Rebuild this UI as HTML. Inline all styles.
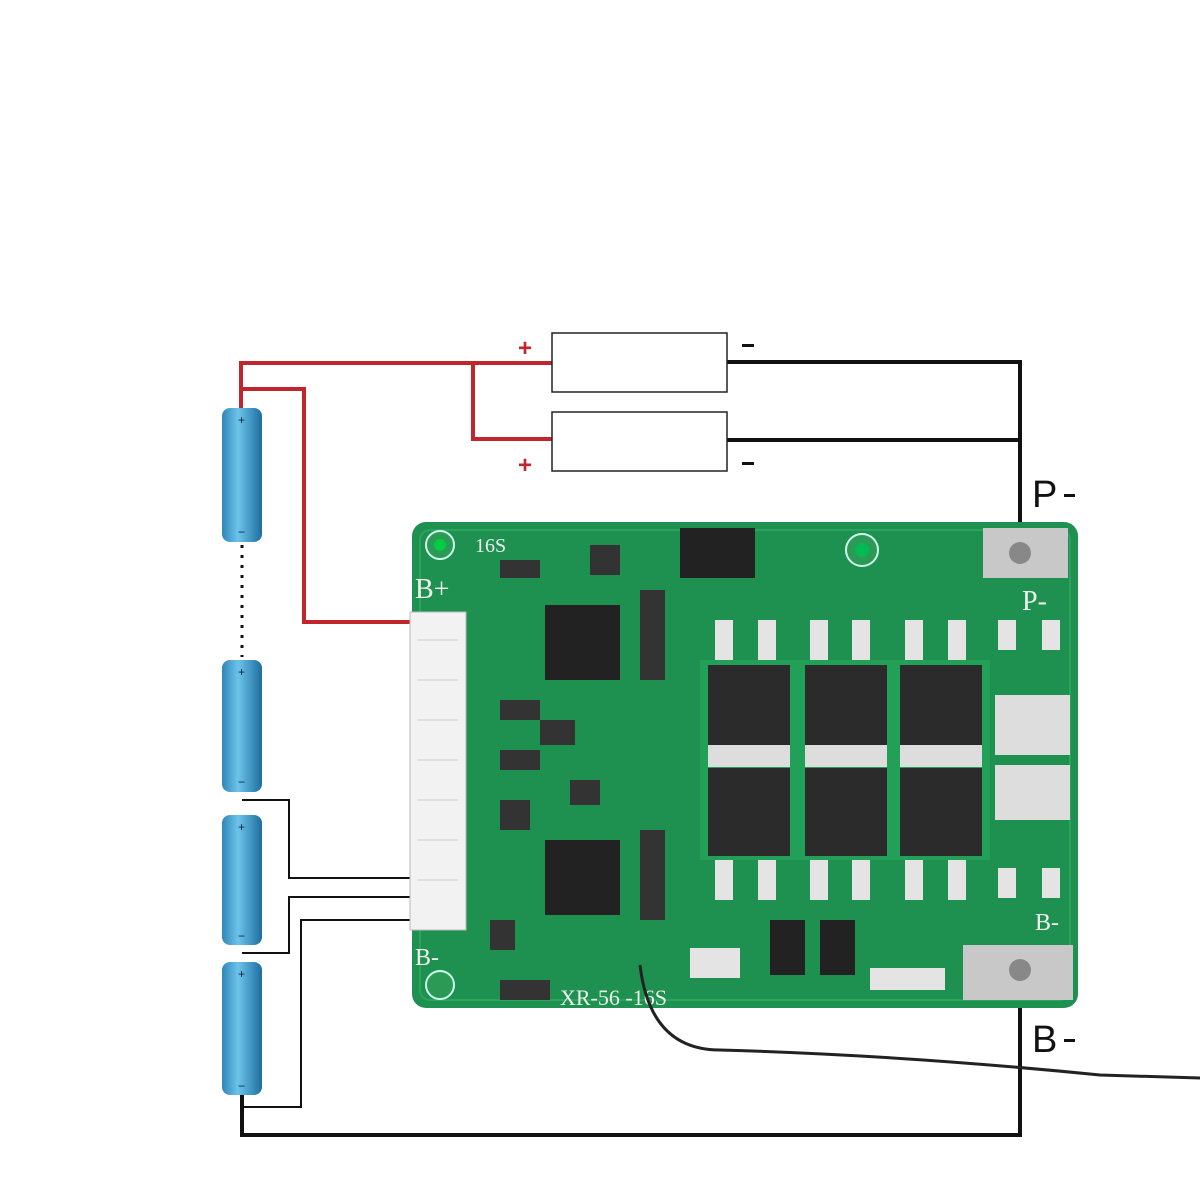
<!DOCTYPE html>
<html><head><meta charset="utf-8"><style>body{margin:0;background:#fff}svg{display:block}</style></head>
<body>
<svg width="1200" height="1200" viewBox="0 0 1200 1200" xmlns="http://www.w3.org/2000/svg" font-family="Liberation Sans, sans-serif">
<defs>
<linearGradient id="bat" x1="0" x2="1"><stop offset="0" stop-color="#2f86b8"/><stop offset="0.4" stop-color="#6cc3ea"/><stop offset="1" stop-color="#1d6e9e"/></linearGradient>
</defs>
<g stroke="#c0262b" stroke-width="4" fill="none">
<polyline points="241,408 241,363 552,363"/>
<polyline points="241,389 304,389 304,622 412,622"/>
<polyline points="473,363 473,439 552,439"/>
</g>
<g stroke="#111" stroke-width="4" fill="none">
<polyline points="727,362 1020,362 1020,525"/>
<line x1="727" y1="440" x2="1020" y2="440"/>
<polyline points="1020,1000 1020,1135 242,1135 242,1095"/>
</g>
<g stroke="#111" stroke-width="2" fill="none">
<polyline points="242,800 289,800 289,878 412,878"/>
<polyline points="242,953 289,953 289,897 412,897"/>
<polyline points="242,1107 301,1107 301,920 412,920"/>
</g>
<rect x="552" y="333" width="175" height="59" fill="#fff" stroke="#222" stroke-width="1.5"/>
<rect x="552" y="412" width="175" height="59" fill="#fff" stroke="#222" stroke-width="1.5"/>
<text x="518" y="356" fill="#c0262b" font-size="24" font-weight="bold">+</text>
<text x="518" y="473" fill="#c0262b" font-size="24" font-weight="bold">+</text>
<rect x="742" y="344" width="12" height="3" fill="#111"/>
<rect x="742" y="462" width="12" height="3" fill="#111"/>
<text x="1032" y="507" fill="#111" font-size="38">P</text><rect x="1064" y="494" width="11" height="3" fill="#111"/>
<text x="1032" y="1052" fill="#111" font-size="38">B</text><rect x="1064" y="1039" width="11" height="3" fill="#111"/>
<g>
<rect x="222" y="408" width="40" height="134" rx="8" fill="url(#bat)"/>
<rect x="222" y="660" width="40" height="132" rx="8" fill="url(#bat)"/>
<rect x="222" y="815" width="40" height="130" rx="8" fill="url(#bat)"/>
<rect x="222" y="962" width="40" height="133" rx="8" fill="url(#bat)"/>
</g>
<g fill="#123" font-size="12">
<text x="238" y="424">+</text><text x="238" y="536">−</text>
<text x="238" y="676">+</text><text x="238" y="786">−</text>
<text x="238" y="831">+</text><text x="238" y="940">−</text>
<text x="238" y="978">+</text><text x="238" y="1090">−</text>
</g>
<line x1="242" y1="545" x2="242" y2="657" stroke="#111" stroke-width="3" stroke-dasharray="3,7"/>
<rect x="412" y="522" width="666" height="486" rx="14" fill="#1e9150"/>
<rect x="420" y="530" width="650" height="470" rx="10" fill="none" stroke="#2aa45c" stroke-width="2"/>
<circle cx="440" cy="545" r="14" fill="#2a9a55" stroke="#cfe" stroke-width="2"/><circle cx="440" cy="545" r="6" fill="#0c4"/>
<circle cx="862" cy="550" r="16" fill="#2a9a55" stroke="#cfe" stroke-width="2"/><circle cx="862" cy="550" r="7" fill="#0b5"/>
<circle cx="440" cy="985" r="14" fill="#2a9a55" stroke="#cfe" stroke-width="2"/>
<text x="475" y="552" fill="#eee" font-size="20" font-family="Liberation Serif">16S</text>
<text x="415" y="598" fill="#eee" font-size="28" font-family="Liberation Serif">B+</text>
<text x="415" y="965" fill="#eee" font-size="24" font-family="Liberation Serif">B-</text>
<text x="1022" y="610" fill="#eee" font-size="28" font-family="Liberation Serif">P-</text>
<text x="1035" y="930" fill="#eee" font-size="24" font-family="Liberation Serif">B-</text>
<text x="560" y="1005" fill="#eee" font-size="22" font-family="Liberation Serif">XR-56  -16S</text>
<rect x="983" y="528" width="85" height="50" fill="#c8c8c8"/><circle cx="1020" cy="553" r="11" fill="#888"/>
<rect x="963" y="945" width="110" height="55" fill="#c8c8c8"/><circle cx="1020" cy="970" r="11" fill="#888"/>
<rect x="680" y="528" width="75" height="50" fill="#222"/>
<rect x="410" y="612" width="56" height="318" fill="#f2f2f2" stroke="#bbb"/>
<g stroke="#ccc"><line x1="418" y1="640" x2="458" y2="640"/><line x1="418" y1="680" x2="458" y2="680"/><line x1="418" y1="720" x2="458" y2="720"/><line x1="418" y1="760" x2="458" y2="760"/><line x1="418" y1="800" x2="458" y2="800"/><line x1="418" y1="840" x2="458" y2="840"/><line x1="418" y1="880" x2="458" y2="880"/></g>
<rect x="545" y="605" width="75" height="75" fill="#222"/>
<rect x="545" y="840" width="75" height="75" fill="#222"/>
<g fill="#333">
<rect x="500" y="560" width="40" height="18"/><rect x="590" y="545" width="30" height="30"/><rect x="500" y="700" width="40" height="20"/>
<rect x="500" y="750" width="40" height="20"/><rect x="540" y="720" width="35" height="25"/><rect x="570" y="780" width="30" height="25"/>
<rect x="500" y="800" width="30" height="30"/><rect x="490" y="920" width="25" height="30"/><rect x="640" y="590" width="25" height="90"/>
<rect x="640" y="830" width="25" height="90"/><rect x="500" y="980" width="50" height="20"/>
</g>
<rect x="700" y="660" width="290" height="200" fill="#22a058"/>
<g fill="#2b2b2b">
<rect x="708" y="665" width="82" height="80"/><rect x="805" y="665" width="82" height="80"/><rect x="900" y="665" width="82" height="80"/>
<rect x="708" y="768" width="82" height="88"/><rect x="805" y="768" width="82" height="88"/><rect x="900" y="768" width="82" height="88"/>
</g>
<g fill="#ddd">
<rect x="708" y="745" width="82" height="22"/><rect x="805" y="745" width="82" height="22"/><rect x="900" y="745" width="82" height="22"/>
<rect x="995" y="695" width="75" height="60"/><rect x="995" y="765" width="75" height="55"/>
</g>
<g fill="#e4e4e4">
<rect x="715" y="620" width="18" height="40"/><rect x="758" y="620" width="18" height="40"/><rect x="810" y="620" width="18" height="40"/><rect x="852" y="620" width="18" height="40"/><rect x="905" y="620" width="18" height="40"/><rect x="948" y="620" width="18" height="40"/>
<rect x="715" y="860" width="18" height="40"/><rect x="758" y="860" width="18" height="40"/><rect x="810" y="860" width="18" height="40"/><rect x="852" y="860" width="18" height="40"/><rect x="905" y="860" width="18" height="40"/><rect x="948" y="860" width="18" height="40"/>
<rect x="998" y="620" width="18" height="30"/><rect x="1042" y="620" width="18" height="30"/><rect x="998" y="868" width="18" height="30"/><rect x="1042" y="868" width="18" height="30"/>
<rect x="870" y="968" width="75" height="22"/><rect x="690" y="948" width="50" height="30"/>
</g>
<g fill="#222"><rect x="770" y="920" width="35" height="55"/><rect x="820" y="920" width="35" height="55"/></g>
<path d="M640,965 Q650,1050 720,1050 Q900,1055 1100,1075 L1200,1078" stroke="#222" stroke-width="3" fill="none"/>
</svg>
</body></html>
